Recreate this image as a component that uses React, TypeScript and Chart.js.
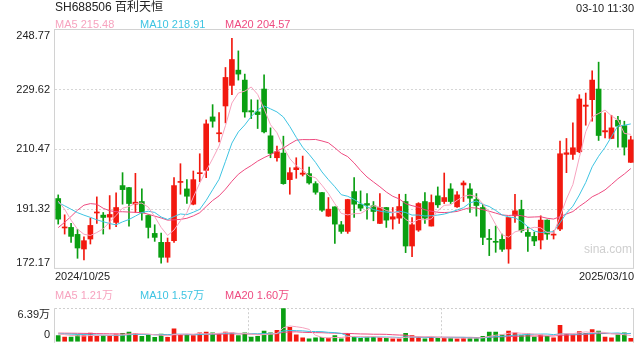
import React, { useEffect, useRef } from 'react';
import { Chart, registerables } from 'chart.js';

Chart.register(...registerables);

const DATES = [
  '2024/10/25', '2024/10/28', '2024/10/29', '2024/10/30', '2024/10/31',
  '2024/11/01', '2024/11/04', '2024/11/05', '2024/11/06', '2024/11/07', '2024/11/08',
  '2024/11/11', '2024/11/12', '2024/11/13', '2024/11/14', '2024/11/15',
  '2024/11/18', '2024/11/19', '2024/11/20', '2024/11/21', '2024/11/22',
  '2024/11/25', '2024/11/26', '2024/11/27', '2024/11/28', '2024/11/29',
  '2024/12/02', '2024/12/03', '2024/12/04', '2024/12/05', '2024/12/06',
  '2024/12/09', '2024/12/10', '2024/12/11', '2024/12/12', '2024/12/13',
  '2024/12/16', '2024/12/17', '2024/12/18', '2024/12/19', '2024/12/20',
  '2024/12/23', '2024/12/24', '2024/12/25', '2024/12/26', '2024/12/27',
  '2024/12/30', '2024/12/31',
  '2025/01/02', '2025/01/03', '2025/01/06', '2025/01/07', '2025/01/08', '2025/01/09', '2025/01/10',
  '2025/01/13', '2025/01/14', '2025/01/15', '2025/01/16', '2025/01/17',
  '2025/01/20', '2025/01/21', '2025/01/22', '2025/01/23', '2025/01/24', '2025/01/27',
  '2025/02/05', '2025/02/06', '2025/02/07', '2025/02/10', '2025/02/11', '2025/02/12', '2025/02/13', '2025/02/14',
  '2025/02/17', '2025/02/18', '2025/02/19', '2025/02/20', '2025/02/21',
  '2025/02/24', '2025/02/25', '2025/02/26', '2025/02/27', '2025/02/28',
  '2025/03/03', '2025/03/04', '2025/03/05', '2025/03/06', '2025/03/07', '2025/03/10',
];

const OPEN = [
  194.73, 185.3, 185.47, 183.24, 178.55, 181.75, 190.1, 189.41, 188.77, 187.07,
  198.88, 198.24, 192.92, 193.77, 189.3, 183.55, 180.68, 175.89, 181.21, 199.9,
  197.81, 192.92, 202.7, 203.77, 220.9, 215.5, 224.41, 231.01, 235.9, 232.71,
  222.9, 222.5, 229.84, 214.84, 207.81, 209.3, 200.79, 203.98, 202.5, 202.71,
  199.51, 196.64, 189.09, 192.07, 186.32, 184.19, 196.96, 192.92, 193.13, 192.39,
  186.75, 191.85, 188.13, 188.45, 193.77, 179.51, 184.62, 193.77, 185.9, 195.58,
  193.77, 197.81, 192.07, 199.09, 197.81, 194.41, 191.85, 181.9, 180.9, 181.64,
  178.55, 189.2, 191.22, 183.88, 182.6, 181.43, 187.81, 183.0, 184.94, 208.9,
  208.88, 209.73, 224.3, 226.43, 229.84, 216.1, 213.99, 219.84, 218.1, 206.33,
];
const HIGH = [
  195.9, 189.51, 186.75, 184.83, 182.49, 188.45, 195.26, 190.26, 195.68, 196.54,
  203.03, 198.3, 202.81, 197.81, 189.5, 186.32, 183.66, 182.07, 201.43, 205.9,
  200.79, 203.56, 209.09, 219.94, 224.84, 222.28, 236.75, 246.12, 242.07, 234.63,
  226.43, 226.33, 234.41, 217.39, 211.54, 214.73, 204.62, 207.81, 208.35, 204.83,
  200.15, 196.7, 195.05, 192.1, 187.39, 194.5, 201.43, 197.18, 196.32, 193.77,
  196.32, 191.9, 191.85, 196.11, 196.11, 188.66, 193.4, 196.64, 195.9, 198.45,
  202.92, 199.51, 196.96, 200.37, 199.51, 196.32, 192.92, 184.83, 185.9, 183.34,
  188.7, 196.11, 194.2, 185.47, 183.98, 189.2, 187.9, 184.41, 213.13, 213.99,
  218.99, 228.03, 228.56, 235.69, 238.46, 222.18, 221.43, 221.1, 219.52, 214.73,
];
const LOW = [
  186.53, 183.34, 180.68, 175.57, 175.04, 180.15, 186.75, 183.34, 184.94, 185.68,
  192.92, 185.9, 190.26, 187.81, 182.07, 181.0, 173.98, 174.3, 180.68, 196.11,
  193.13, 192.71, 200.15, 201.43, 217.6, 212.92, 218.99, 228.03, 232.71, 220.8,
  220.37, 217.18, 215.8, 207.81, 206.75, 199.3, 196.11, 201.22, 201.96, 199.3,
  196.11, 190.58, 189.0, 180.36, 183.56, 183.56, 188.66, 190.79, 188.13, 187.6,
  186.7, 185.47, 184.94, 186.75, 177.39, 176.11, 184.2, 186.75, 185.9, 191.86,
  193.13, 193.13, 191.86, 193.77, 190.26, 189.09, 179.94, 176.43, 177.49, 177.81,
  173.98, 187.07, 183.88, 177.81, 179.62, 178.56, 181.64, 181.75, 184.41, 203.03,
  207.28, 209.41, 218.24, 219.52, 213.35, 214.2, 213.9, 211.22, 208.67, 206.3,
];
const CLOSE = [
  188.13, 185.6, 182.6, 178.87, 181.21, 186.11, 190.4, 188.66, 189.62, 191.85,
  197.6, 193.13, 193.56, 190.15, 185.47, 182.28, 175.89, 180.68, 198.88, 200.2,
  195.47, 200.79, 203.0, 218.67, 219.52, 215.8, 233.56, 239.31, 234.63, 222.5,
  222.5, 221.65, 216.11, 209.2, 209.73, 199.51, 203.03, 204.62, 202.9, 199.73,
  196.75, 191.0, 191.32, 186.53, 184.19, 194.41, 192.92, 191.64, 192.6, 190.58,
  191.85, 187.81, 188.88, 192.17, 179.51, 186.32, 193.13, 188.45, 193.45, 192.71,
  195.05, 193.77, 195.9, 199.73, 194.84, 192.5, 182.28, 181.6, 180.7, 178.45,
  188.66, 190.79, 184.41, 182.6, 181.11, 187.81, 183.34, 183.2, 209.09, 209.4,
  211.01, 226.65, 224.7, 232.71, 214.94, 216.5, 217.39, 217.92, 211.22, 213.56,
];

const MA5 = [
  193.9, 191.3, 187.8, 184.9, 183.28, 182.88, 183.84, 185.05, 187.2, 189.33,
  191.63, 192.17, 193.15, 193.26, 191.98, 188.92, 185.47, 182.89, 184.64, 187.59,
  190.22, 195.2, 199.67, 203.63, 207.49, 211.56, 218.11, 225.37, 228.56, 229.16,
  230.5, 228.12, 223.48, 218.39, 215.84, 211.24, 207.52, 205.22, 203.96, 201.96,
  201.41, 199.0, 196.34, 193.07, 189.96, 189.49, 189.87, 189.94, 191.15, 192.43,
  191.92, 190.9, 190.34, 190.26, 188.04, 186.94, 188.0, 187.92, 188.17, 190.81,
  192.56, 192.69, 194.18, 195.43, 195.86, 195.35, 193.05, 190.19, 186.38, 183.11,
  182.34, 184.04, 184.6, 184.98, 185.51, 185.34, 183.85, 183.61, 188.91, 194.57,
  199.21, 207.87, 216.17, 220.89, 222.0, 223.1, 221.25, 219.89, 215.59, 215.32,
];
const MA10 = [
  193.4, 192.4, 191.3, 190.2, 189.4, 188.7, 187.9, 187.3, 186.7, 186.31,
  187.25, 188.01, 189.1, 190.23, 190.66, 190.27, 188.82, 188.02, 188.95, 189.78,
  189.57, 190.34, 191.28, 194.13, 197.54, 200.89, 206.66, 212.52, 216.1, 218.33,
  221.03, 223.11, 224.43, 223.48, 222.5, 220.87, 217.82, 214.35, 211.18, 208.9,
  206.32, 203.26, 200.78, 198.51, 195.96, 195.45, 194.44, 193.14, 192.11, 191.19,
  190.7, 190.39, 190.14, 190.71, 190.24, 189.43, 189.45, 189.13, 189.22, 189.43,
  189.75, 190.34, 191.05, 191.8, 193.34, 193.95, 192.87, 192.18, 190.91, 189.48,
  188.84, 188.55, 187.4, 185.68, 184.31, 183.84, 183.95, 184.11, 186.95, 190.04,
  192.28, 195.86, 199.89, 204.9, 208.29, 211.15, 214.56, 218.03, 218.24, 218.66,
];
const MA20 = [
  185.4, 187.1, 189.0, 191.0, 192.6, 193.1, 192.9, 191.6, 190.8, 190.5,
  190.5, 190.4, 190.3, 190.2, 189.7, 189.1, 188.5, 187.8, 187.9, 188.04,
  188.41, 189.17, 190.19, 192.18, 194.1, 195.58, 197.74, 200.27, 202.52, 204.05,
  205.3, 206.73, 207.85, 208.81, 210.02, 210.88, 212.24, 213.43, 213.64, 213.61,
  213.68, 213.19, 212.6, 211.0, 209.23, 208.16, 206.13, 203.74, 201.64, 200.05,
  198.51, 196.82, 195.46, 194.61, 193.1, 192.44, 191.94, 191.13, 190.66, 190.31,
  190.23, 190.36, 190.59, 191.25, 191.79, 191.69, 191.16, 190.66, 190.06, 189.46,
  189.3, 189.44, 189.22, 188.74, 188.82, 188.9, 188.41, 188.15, 188.93, 189.76,
  190.56, 192.2, 193.64, 195.29, 196.3, 197.5, 199.25, 201.07, 202.6, 204.35,
];

// volume in 万
const VOLUME = [
  1.19, 0.89, 0.89, 1.32, 1.19, 1.66, 1.06, 1.19, 1.19, 1.49,
  1.61, 1.83, 1.61, 1.06, 1.32, 0.85, 1.49, 0.85, 2.47, 1.41,
  1.32, 1.19, 1.70, 1.83, 1.70, 1.61, 1.83, 1.70, 1.19, 1.70,
  0.89, 1.06, 2.04, 1.70, 2.17, 6.39, 2.76, 1.32, 0.77, 0.55,
  0.77, 0.85, 0.72, 1.19, 0.55, 1.61, 0.97, 0.68, 0.89, 0.89,
  0.85, 0.68, 0.55, 0.55, 1.61, 1.19, 0.89, 0.55, 0.89, 0.68,
  0.77, 0.68, 0.55, 0.77, 0.77, 0.77, 1.06, 1.83, 1.83, 1.32,
  2.04, 1.70, 1.19, 1.57, 0.89, 1.32, 1.06, 0.77, 3.11, 1.49,
  1.32, 1.96, 1.61, 2.34, 2.04, 0.89, 0.77, 1.32, 1.70, 0.68,
];
const VOL_MA5 = [
  1.50, 1.35, 1.20, 1.15, 1.096, 1.19, 1.224, 1.284, 1.258, 1.318,
  1.308, 1.462, 1.546, 1.52, 1.486, 1.334, 1.266, 1.114, 1.396, 1.414,
  1.508, 1.448, 1.618, 1.49, 1.548, 1.606, 1.734, 1.734, 1.606, 1.606,
  1.462, 1.308, 1.376, 1.478, 1.572, 2.672, 3.012, 2.868, 2.682, 2.358,
  1.234, 0.852, 0.732, 0.816, 0.816, 0.984, 1.008, 1.0, 0.94, 1.008,
  0.856, 0.798, 0.772, 0.704, 0.848, 0.916, 0.958, 0.958, 1.026, 0.84,
  0.756, 0.714, 0.714, 0.69, 0.708, 0.708, 0.784, 1.04, 1.252, 1.362,
  1.616, 1.744, 1.616, 1.564, 1.478, 1.334, 1.206, 1.122, 1.43, 1.55,
  1.55, 1.73, 1.898, 1.744, 1.854, 1.768, 1.53, 1.472, 1.344, 1.21,
];
const VOL_MA10 = [
  1.50, 1.48, 1.45, 1.42, 1.38, 1.35, 1.30, 1.26, 1.23, 1.207,
  1.249, 1.343, 1.415, 1.389, 1.402, 1.321, 1.364, 1.33, 1.458, 1.45,
  1.421, 1.357, 1.366, 1.443, 1.481, 1.557, 1.591, 1.676, 1.548, 1.577,
  1.534, 1.521, 1.555, 1.542, 1.589, 2.067, 2.16, 2.122, 2.08, 1.965,
  1.953, 1.932, 1.80, 1.749, 1.587, 1.109, 0.93, 0.866, 0.878, 0.912,
  0.92, 0.903, 0.886, 0.822, 0.928, 0.886, 0.878, 0.865, 0.865, 0.844,
  0.836, 0.836, 0.836, 0.858, 0.774, 0.732, 0.749, 0.877, 0.971, 1.035,
  1.162, 1.264, 1.328, 1.408, 1.42, 1.475, 1.475, 1.369, 1.497, 1.514,
  1.442, 1.468, 1.51, 1.587, 1.702, 1.659, 1.63, 1.685, 1.544, 1.57,
];
const VOL_MA20 = [
  1.65, 1.64, 1.63, 1.62, 1.60, 1.58, 1.56, 1.54, 1.52, 1.50,
  1.48, 1.46, 1.44, 1.42, 1.40, 1.38, 1.36, 1.34, 1.33, 1.329,
  1.335, 1.35, 1.39, 1.416, 1.442, 1.439, 1.478, 1.503, 1.503, 1.514,
  1.478, 1.439, 1.46, 1.493, 1.535, 1.812, 1.876, 1.899, 1.814, 1.771,
  1.744, 1.727, 1.678, 1.646, 1.588, 1.588, 1.545, 1.494, 1.479, 1.439,
  1.437, 1.418, 1.343, 1.286, 1.258, 0.998, 0.904, 0.866, 0.872, 0.878,
  0.878, 0.87, 0.861, 0.84, 0.851, 0.809, 0.814, 0.871, 0.918, 0.94,
  0.999, 1.05, 1.082, 1.133, 1.097, 1.104, 1.112, 1.123, 1.234, 1.275,
  1.302, 1.366, 1.419, 1.498, 1.561, 1.567, 1.553, 1.527, 1.521, 1.60,
];

const PRICE_TICKS = [172.17, 191.32, 210.47, 229.62, 248.77];
const VOL_TICKS = [0, 6.39];
const TITLE = 'SH688506 百利天恒';
const TIME_LABEL = '03-10 11:30';
const PRICE_LEGEND = [
  { name: 'MA5', value: '215.48' },
  { name: 'MA10', value: '218.91' },
  { name: 'MA20', value: '204.57' },
];
const VOL_LEGEND = [
  { name: 'MA5', value: '1.21万' },
  { name: 'MA10', value: '1.57万' },
  { name: 'MA20', value: '1.60万' },
];
const WATERMARK = 'sina.com';

const RED = '#f2190f';
const GREEN = '#0a9f12';
const C_MA5 = '#f7a3bf';
const C_MA10 = '#3ec4e2';
const C_MA20 = '#ee4b80';
const LEGEND_COLORS = [C_MA5, C_MA10, C_MA20];
const FONT = "'Liberation Sans', Arial, 'Noto Sans CJK SC', sans-serif";
const TEXT = '#222';

export default function App() {
  const priceRef = useRef<HTMLCanvasElement>(null);
  const volRef = useRef<HTMLCanvasElement>(null);

  useEffect(() => {
    const colors = CLOSE.map((c, i) => (c >= OPEN[i] ? RED : GREEN));
    const line = (label: string, data: number[], color: string) => ({
      type: 'line' as const,
      label,
      data,
      borderColor: color,
      backgroundColor: color,
      borderWidth: 1,
      pointRadius: 0,
      tension: 0,
      order: 0,
    });

    const priceFrame = {
      id: 'priceFrame',
      beforeDatasetsDraw(chart: any) {
        const { ctx, chartArea: a } = chart;
        ctx.save();
        ctx.strokeStyle = '#d2d2d2';
        ctx.lineWidth = 1;
        ctx.strokeRect(a.left - 0.5, a.top - 0.5, a.right - a.left, a.bottom - a.top);
        ctx.restore();
      },
    };

    const volFrame = {
      id: 'volFrame',
      beforeDatasetsDraw(chart: any) {
        const { ctx, chartArea: a } = chart;
        ctx.save();
        ctx.strokeStyle = '#d2d2d2';
        ctx.lineWidth = 1;
        ctx.beginPath();
        ctx.moveTo(a.left - 0.5, a.top);
        ctx.lineTo(a.left - 0.5, a.bottom + 1);
        ctx.moveTo(a.right - 0.5, a.top);
        ctx.lineTo(a.right - 0.5, a.bottom + 1);
        ctx.stroke();
        ctx.setLineDash([2, 2]);
        ctx.strokeStyle = '#cfcfcf';
        ctx.beginPath();
        const w = a.right - a.left;
        [1, 2].forEach((k) => {
          const x = Math.round(a.left + (w * k) / 3) + 0.5;
          ctx.moveTo(x, a.top);
          ctx.lineTo(x, a.bottom + 1);
        });
        ctx.stroke();
        ctx.restore();
      },
    };

    const price = new Chart(priceRef.current as HTMLCanvasElement, {
      type: 'bar',
      data: {
        labels: DATES,
        datasets: [
          line('MA5', MA5, C_MA5),
          line('MA10', MA10, C_MA10),
          line('MA20', MA20, C_MA20),
          {
            type: 'bar',
            label: 'body',
            data: OPEN.map((o, i) => [o, CLOSE[i]]),
            backgroundColor: colors,
            borderWidth: 0,
            barThickness: 5,
            minBarLength: 1,
            grouped: false,
            order: 1,
          } as any,
          {
            type: 'bar',
            label: 'wick',
            data: LOW.map((l, i) => [l, HIGH[i]]),
            backgroundColor: colors,
            borderWidth: 0,
            barThickness: 1,
            grouped: false,
            order: 2,
          } as any,
        ],
      },
      options: {
        animation: false,
        responsive: false,
        maintainAspectRatio: false,
        events: [],
        layout: { padding: { top: 30, right: 6, left: 0, bottom: 0 } },
        plugins: { legend: { display: false }, tooltip: { enabled: false } },
        scales: {
          x: {
            display: false,
            offset: true,
          },
          xDates: {
            type: 'category',
            axis: 'x',
            position: 'bottom',
            offset: false,
            grid: { display: false, drawTicks: false },
            border: { display: false },
            ticks: {
              autoSkip: false,
              maxRotation: 0,
              minRotation: 0,
              align: 'inner',
              padding: 1,
              color: TEXT,
              font: { family: FONT, size: 11 },
              callback: (_v: any, i: number) =>
                i === 0 || i === DATES.length - 1 ? DATES[i] : '',
            },
            afterFit: (s: any) => {
              s.height = 16;
            },
          },
          y: {
            min: PRICE_TICKS[0],
            max: PRICE_TICKS[PRICE_TICKS.length - 1],
            afterBuildTicks: (s: any) => {
              s.ticks = PRICE_TICKS.map((v) => ({ value: v }));
            },
            afterFit: (s: any) => {
              s.width = 55;
            },
            grid: {
              drawTicks: false,
              lineWidth: 1,
              color: (ctx: any) =>
                ctx.index === 0 || ctx.index === PRICE_TICKS.length - 1
                  ? 'rgba(0,0,0,0)'
                  : '#d6d6d6',
            },
            border: { display: false, dash: [2, 2] },
            ticks: {
              padding: 5,
              color: TEXT,
              font: { family: FONT, size: 11, lineHeight: 1.1 },
              callback: (_v: any, i: number) => {
                const t = PRICE_TICKS[i].toFixed(2);
                if (i === 0) return [t, ''];
                if (i === PRICE_TICKS.length - 1) return ['', t];
                return t;
              },
            },
          },
        },
      },
      plugins: [priceFrame],
    } as any);

    const vol = new Chart(volRef.current as HTMLCanvasElement, {
      type: 'bar',
      data: {
        labels: DATES,
        datasets: [
          line('MA5', VOL_MA5, C_MA5),
          line('MA10', VOL_MA10, C_MA10),
          line('MA20', VOL_MA20, C_MA20),
          {
            type: 'bar',
            label: 'volume',
            data: VOLUME,
            backgroundColor: colors,
            borderWidth: 0,
            barThickness: 4,
            order: 1,
          } as any,
        ],
      },
      options: {
        animation: false,
        responsive: false,
        maintainAspectRatio: false,
        events: [],
        layout: { padding: { top: 14, right: 6, left: 0, bottom: 6 } },
        plugins: { legend: { display: false }, tooltip: { enabled: false } },
        scales: {
          x: {
            display: false,
            offset: true,
          },
          y: {
            min: VOL_TICKS[0],
            max: VOL_TICKS[1],
            afterBuildTicks: (s: any) => {
              s.ticks = VOL_TICKS.map((v) => ({ value: v }));
            },
            afterFit: (s: any) => {
              s.width = 55;
            },
            grid: {
              drawTicks: false,
              lineWidth: 1,
              color: (ctx: any) => (ctx.index === 0 ? 'rgba(0,0,0,0)' : '#cfcfcf'),
            },
            border: { display: false, dash: [2, 2] },
            ticks: {
              padding: 5,
              color: TEXT,
              font: { family: FONT, size: 11, lineHeight: 1.2 },
              callback: (_v: any, i: number) =>
                i === 0 ? [String(VOL_TICKS[0]), ''] : ['', VOL_TICKS[1].toFixed(2) + '万'],
            },
          },
        },
      },
      plugins: [volFrame],
    } as any);

    return () => {
      price.destroy();
      vol.destroy();
    };
  }, []);

  const textStyle = (extra: React.CSSProperties): React.CSSProperties => ({
    position: 'absolute',
    whiteSpace: 'nowrap',
    fontFamily: FONT,
    fontSize: 11,
    lineHeight: '12px',
    ...extra,
  });
  const legendX = [55, 140, 225];

  return (
    <div
      style={{
        position: 'absolute',
        left: 0,
        top: 0,
        width: 640,
        height: 360,
        background: '#fff',
        overflow: 'hidden',
      }}
    >
      <canvas
        ref={priceRef}
        width={640}
        height={286}
        style={{ position: 'absolute', left: 0, top: 0, width: 640, height: 286 }}
      />
      <canvas
        ref={volRef}
        width={640}
        height={70}
        style={{ position: 'absolute', left: 0, top: 290, width: 640, height: 70 }}
      />
      <div style={textStyle({ left: 55, top: 0, fontSize: 12, lineHeight: '15px', color: TEXT })}>
        {TITLE}
      </div>
      <div style={textStyle({ right: 6, top: 2, color: TEXT })}>{TIME_LABEL}</div>
      {PRICE_LEGEND.map((l, i) => (
        <div key={'p' + l.name} style={textStyle({ left: legendX[i], top: 18, color: LEGEND_COLORS[i] })}>
          {l.name} {l.value}
        </div>
      ))}
      {VOL_LEGEND.map((l, i) => (
        <div key={'v' + l.name} style={textStyle({ left: legendX[i], top: 289, color: LEGEND_COLORS[i] })}>
          {l.name} {l.value}
        </div>
      ))}
      <div style={textStyle({ left: 584, top: 242, fontSize: 12, lineHeight: '14px', color: '#cfcfcf' })}>
        {WATERMARK}
      </div>
    </div>
  );
}
